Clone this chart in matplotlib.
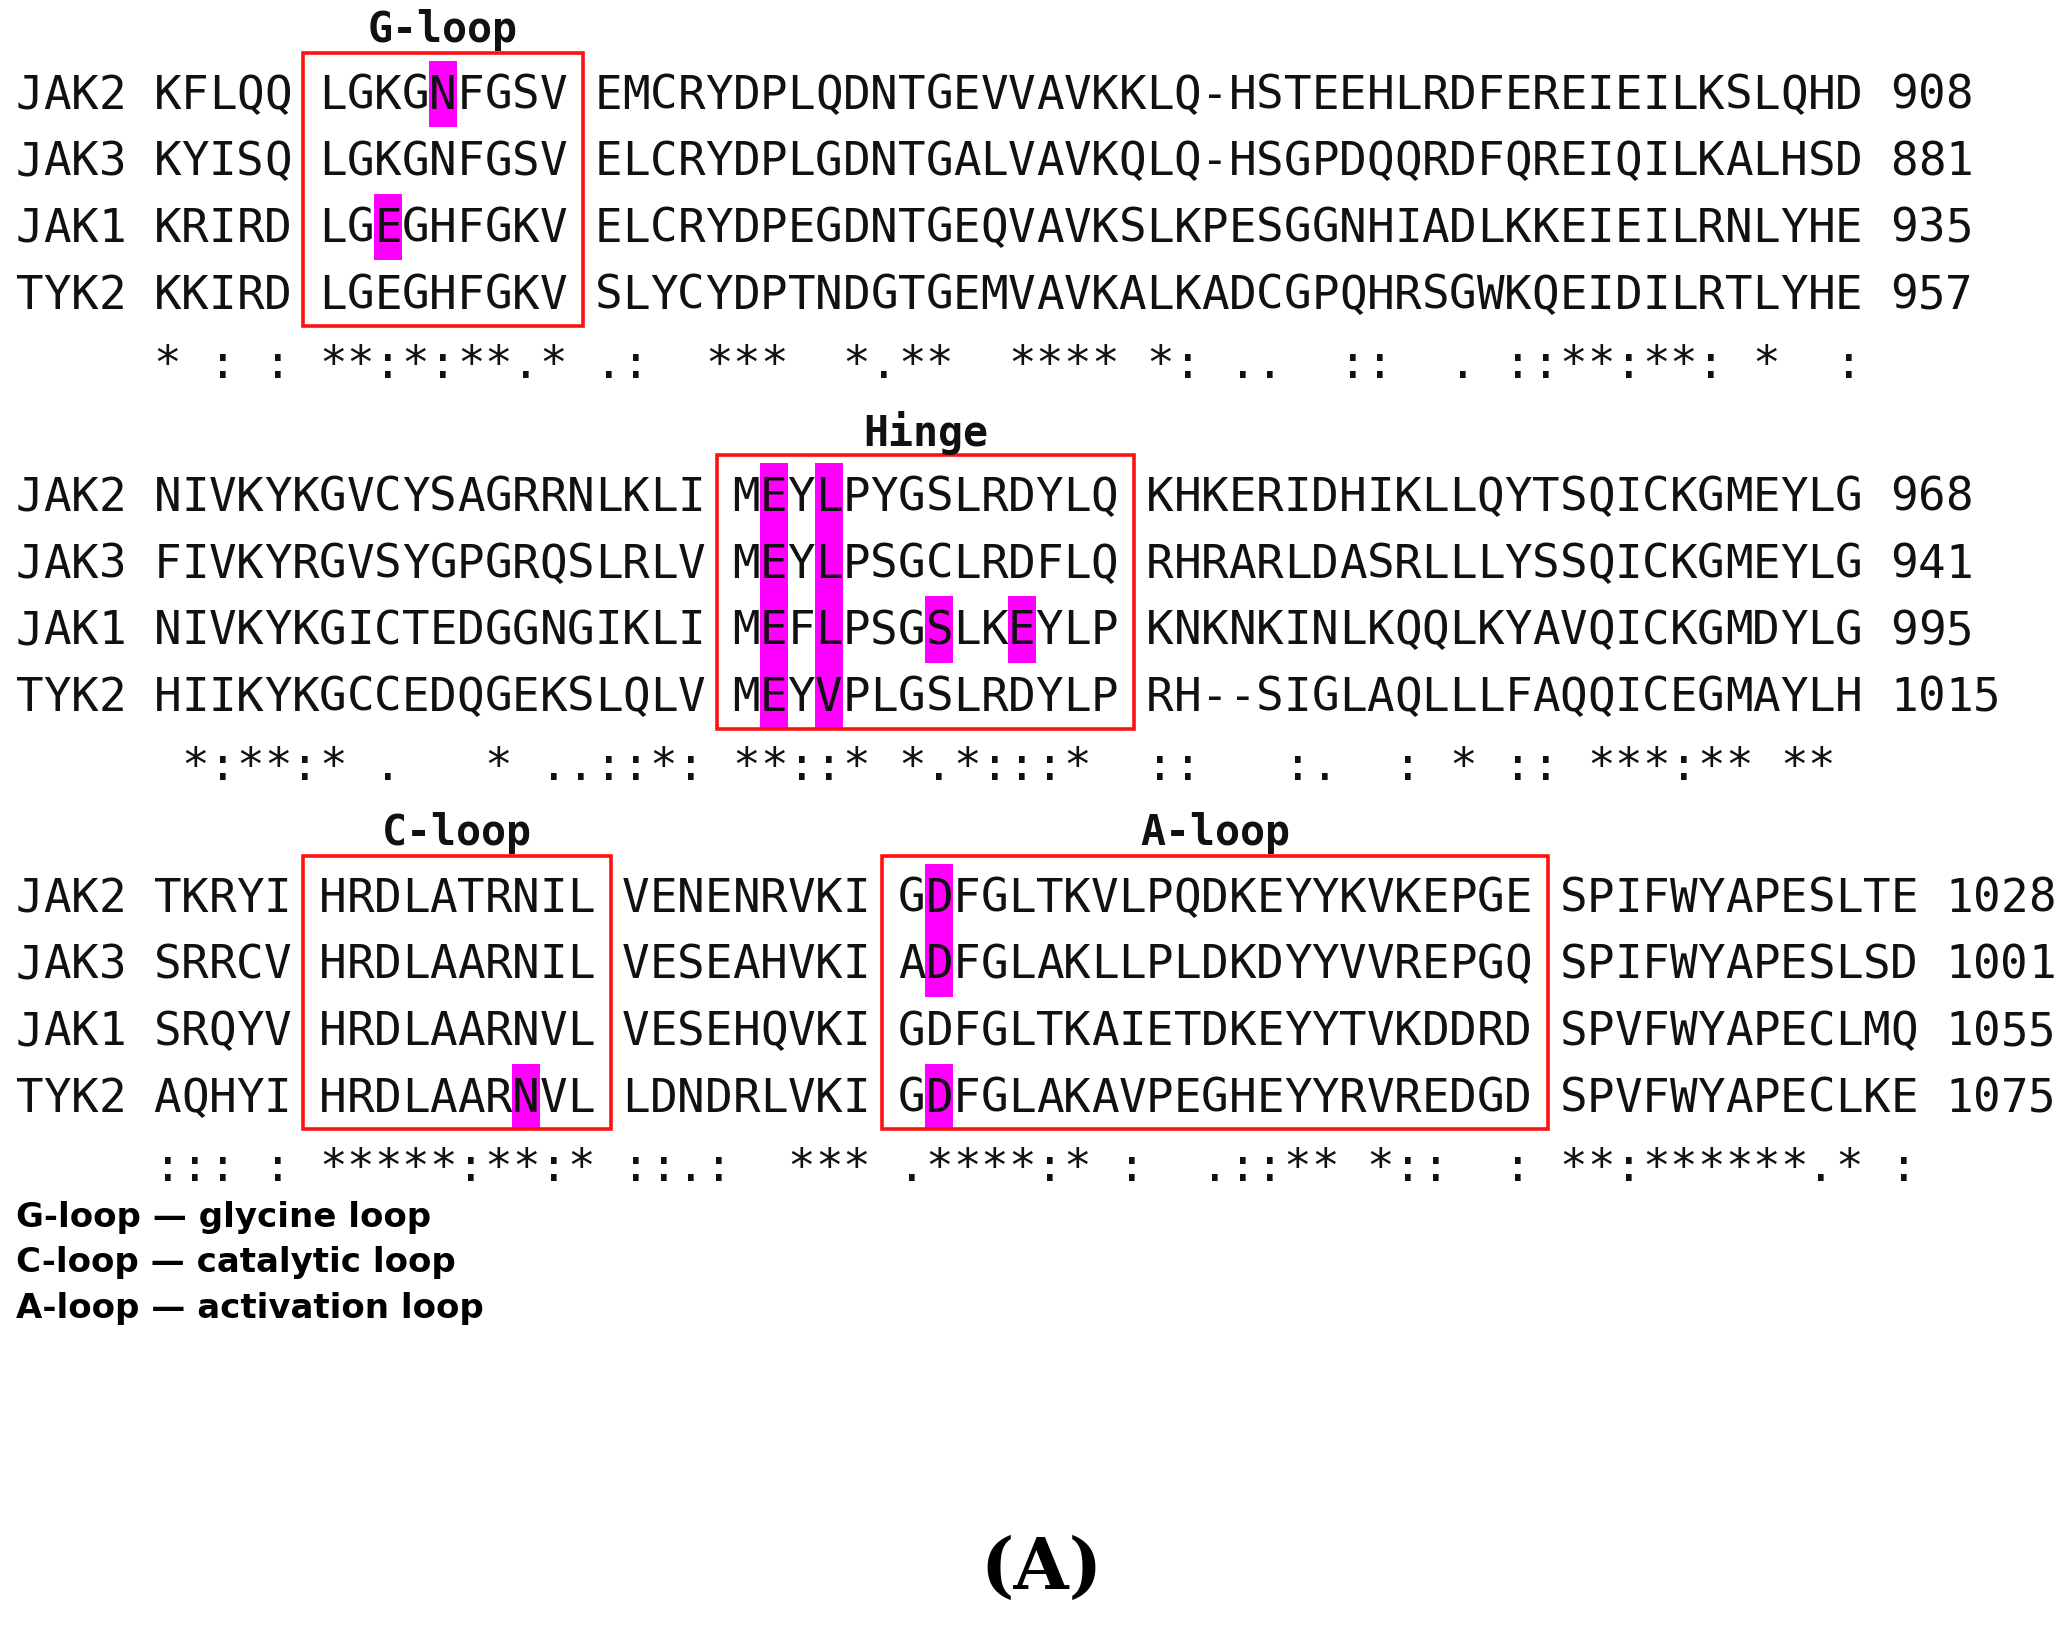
import matplotlib
matplotlib.use("Agg")
import matplotlib.pyplot as plt
from matplotlib.patches import Rectangle

names = ["JAK2", "JAK3", "JAK1", "TYK2"]
blocks = [
    {"seqs": [["KFLQQ", "LGKGNFGSV", "EMCRYDPLQDNTGEVVAVKKLQ-HSTEEHLRDFEREIEILKSLQHD"],
              ["KYISQ", "LGKGNFGSV", "ELCRYDPLGDNTGALVAVKQLQ-HSGPDQQRDFQREIQILKALHSD"],
              ["KRIRD", "LGEGHFGKV", "ELCRYDPEGDNTGEQVAVKSLKPESGGNHIADLKKEIEILRNLYHE"],
              ["KKIRD", "LGEGHFGKV", "SLYCYDPTNDGTGEMVAVKALKADCGPQHRSGWKQEIDILRTLYHE"]],
     "nums": ["908", "881", "935", "957"],
     "cons": [(5,'*'),(7,':'),(9,':'),(11,'*'),(12,'*'),(13,':'),(14,'*'),(15,':'),(16,'*'),(17,'*'),(18,'.'),(19,'*'),
              (21,'.'),(22,':'),(25,'*'),(26,'*'),(27,'*'),(30,'*'),(31,'.'),(32,'*'),(33,'*'),(36,'*'),(37,'*'),(38,'*'),(39,'*'),
              (41,'*'),(42,':'),(44,'.'),(45,'.'),(48,':'),(49,':'),(52,'.'),(54,':'),(55,':'),(56,'*'),(57,'*'),(58,':'),
              (59,'*'),(60,'*'),(61,':'),(63,'*'),(66,':')],
     "boxes": [("G-loop", 11, 19)],
     "hl": [(0, 15), (2, 13)]},
    {"seqs": [["NIVKYKGVCYSAGRRNLKLI", "MEYLPYGSLRDYLQ", "KHKERIDHIKLLQYTSQICKGMEYLG"],
              ["FIVKYRGVSYGPGRQSLRLV", "MEYLPSGCLRDFLQ", "RHRARLDASRLLLYSSQICKGMEYLG"],
              ["NIVKYKGICTEDGGNGIKLI", "MEFLPSGSLKEYLP", "KNKNKINLKQQLKYAVQICKGMDYLG"],
              ["HIIKYKGCCEDQGEKSLQLV", "MEYVPLGSLRDYLP", "RH--SIGLAQLLLFAQQICEGMAYLH"]],
     "nums": ["968", "941", "995", "1015"],
     "cons": [(6,'*'),(7,':'),(8,'*'),(9,'*'),(10,':'),(11,'*'),(13,'.'),(17,'*'),(19,'.'),(20,'.'),(21,':'),(22,':'),
              (23,'*'),(24,':'),(26,'*'),(27,'*'),(28,':'),(29,':'),(30,'*'),(32,'*'),(33,'.'),(34,'*'),(35,':'),(36,':'),
              (37,':'),(38,'*'),(41,':'),(42,':'),(46,':'),(47,'.'),(50,':'),(52,'*'),(54,':'),(55,':'),(57,'*'),(58,'*'),
              (59,'*'),(60,':'),(61,'*'),(62,'*'),(64,'*'),(65,'*')],
     "boxes": [("Hinge", 26, 39)],
     "hl": [(0, 27), (1, 27), (2, 27), (3, 27), (0, 29), (1, 29), (2, 29), (3, 29), (2, 33), (2, 36)]},
    {"seqs": [["TKRYI", "HRDLATRNIL", "VENENRVKI", "GDFGLTKVLPQDKEYYKVKEPGE", "SPIFWYAPESLTE"],
              ["SRRCV", "HRDLAARNIL", "VESEAHVKI", "ADFGLAKLLPLDKDYYVVREPGQ", "SPIFWYAPESLSD"],
              ["SRQYV", "HRDLAARNVL", "VESEHQVKI", "GDFGLTKAIETDKEYYTVKDDRD", "SPVFWYAPECLMQ"],
              ["AQHYI", "HRDLAARNVL", "LDNDRLVKI", "GDFGLAKAVPEGHEYYRVREDGD", "SPVFWYAPECLKE"]],
     "nums": ["1028", "1001", "1055", "1075"],
     "cons": [(5,':'),(6,':'),(7,':'),(9,':'),(11,'*'),(12,'*'),(13,'*'),(14,'*'),(15,'*'),(16,':'),(17,'*'),(18,'*'),
              (19,':'),(20,'*'),(22,':'),(23,':'),(24,'.'),(25,':'),(28,'*'),(29,'*'),(30,'*'),(32,'.'),(33,'*'),(34,'*'),
              (35,'*'),(36,'*'),(37,':'),(38,'*'),(40,':'),(43,'.'),(44,':'),(45,':'),(46,'*'),(47,'*'),(49,'*'),(50,':'),
              (51,':'),(54,':'),(56,'*'),(57,'*'),(58,':'),(59,'*'),(60,'*'),(61,'*'),(62,'*'),(63,'*'),(64,'*'),(65,'.'),
              (66,'*'),(68,':')],
     "boxes": [("C-loop", 11, 20), ("A-loop", 32, 54)],
     "hl": [(0, 33), (1, 33), (3, 33), (3, 18)]},
]
legend_lines = ["G-loop \u2014 glycine loop", "C-loop \u2014 catalytic loop", "A-loop \u2014 activation loop"]
panel_label = "(A)"

W, H = 1568, 1233
fig = plt.figure(figsize=(20.68, 16.26), dpi=100)
ax = fig.add_axes([0, 0, 1, 1])
ax.set_xlim(0, W); ax.set_ylim(H, 0); ax.axis("off")

x0, cw, rh = 12, 20.9, 50.5
block_y = [73, 378, 682]
fs = 33
mono = "DejaVu Sans Mono"
def cx(c): return x0 + cw * (c + 0.5)

for b, y0 in zip(blocks, block_y):
    for r, c in b["hl"]:
        ax.add_patch(Rectangle((x0 + cw * c, y0 + r * rh - 27), cw, rh, color="#ff00ff", lw=0, zorder=1))
    for r, (nm, parts, num) in enumerate(zip(names, b["seqs"], b["nums"])):
        line = nm + " " + " ".join(parts) + " " + num
        y = y0 + r * rh
        for c, ch in enumerate(line):
            if ch != " ":
                ax.text(cx(c), y, ch, family=mono, fontsize=fs, ha="center", va="center", color="#111111", zorder=3)
    yc = y0 + 4 * rh + 2
    for c, s in b["cons"]:
        ax.text(cx(c), yc, s, family=mono, fontsize=fs, ha="center", va="center", color="#111111", zorder=3)
    for lab, c1, c2 in b["boxes"]:
        left = x0 + cw * c1 - 12
        right = x0 + cw * (c2 + 1) + 12
        top = y0 - 33; bot = y0 + 3 * rh + 23
        ax.add_patch(Rectangle((left, top), right - left, bot - top, fill=False, ec="#ff1010", lw=2.6, zorder=2))
        ax.text((left + right) / 2, y0 - 50, lab, family=mono, fontsize=30, fontweight="bold",
                ha="center", va="center", color="#111111")

for i, t in enumerate(legend_lines):
    ax.text(12, 923 + i * 34.5, t, family="DejaVu Sans", fontsize=24.5, fontweight="bold", ha="left", va="center")
ax.text(790, 1190, panel_label, family="DejaVu Serif", fontsize=51, fontweight="bold", ha="center", va="center")

fig.savefig("out.png", dpi=100)
